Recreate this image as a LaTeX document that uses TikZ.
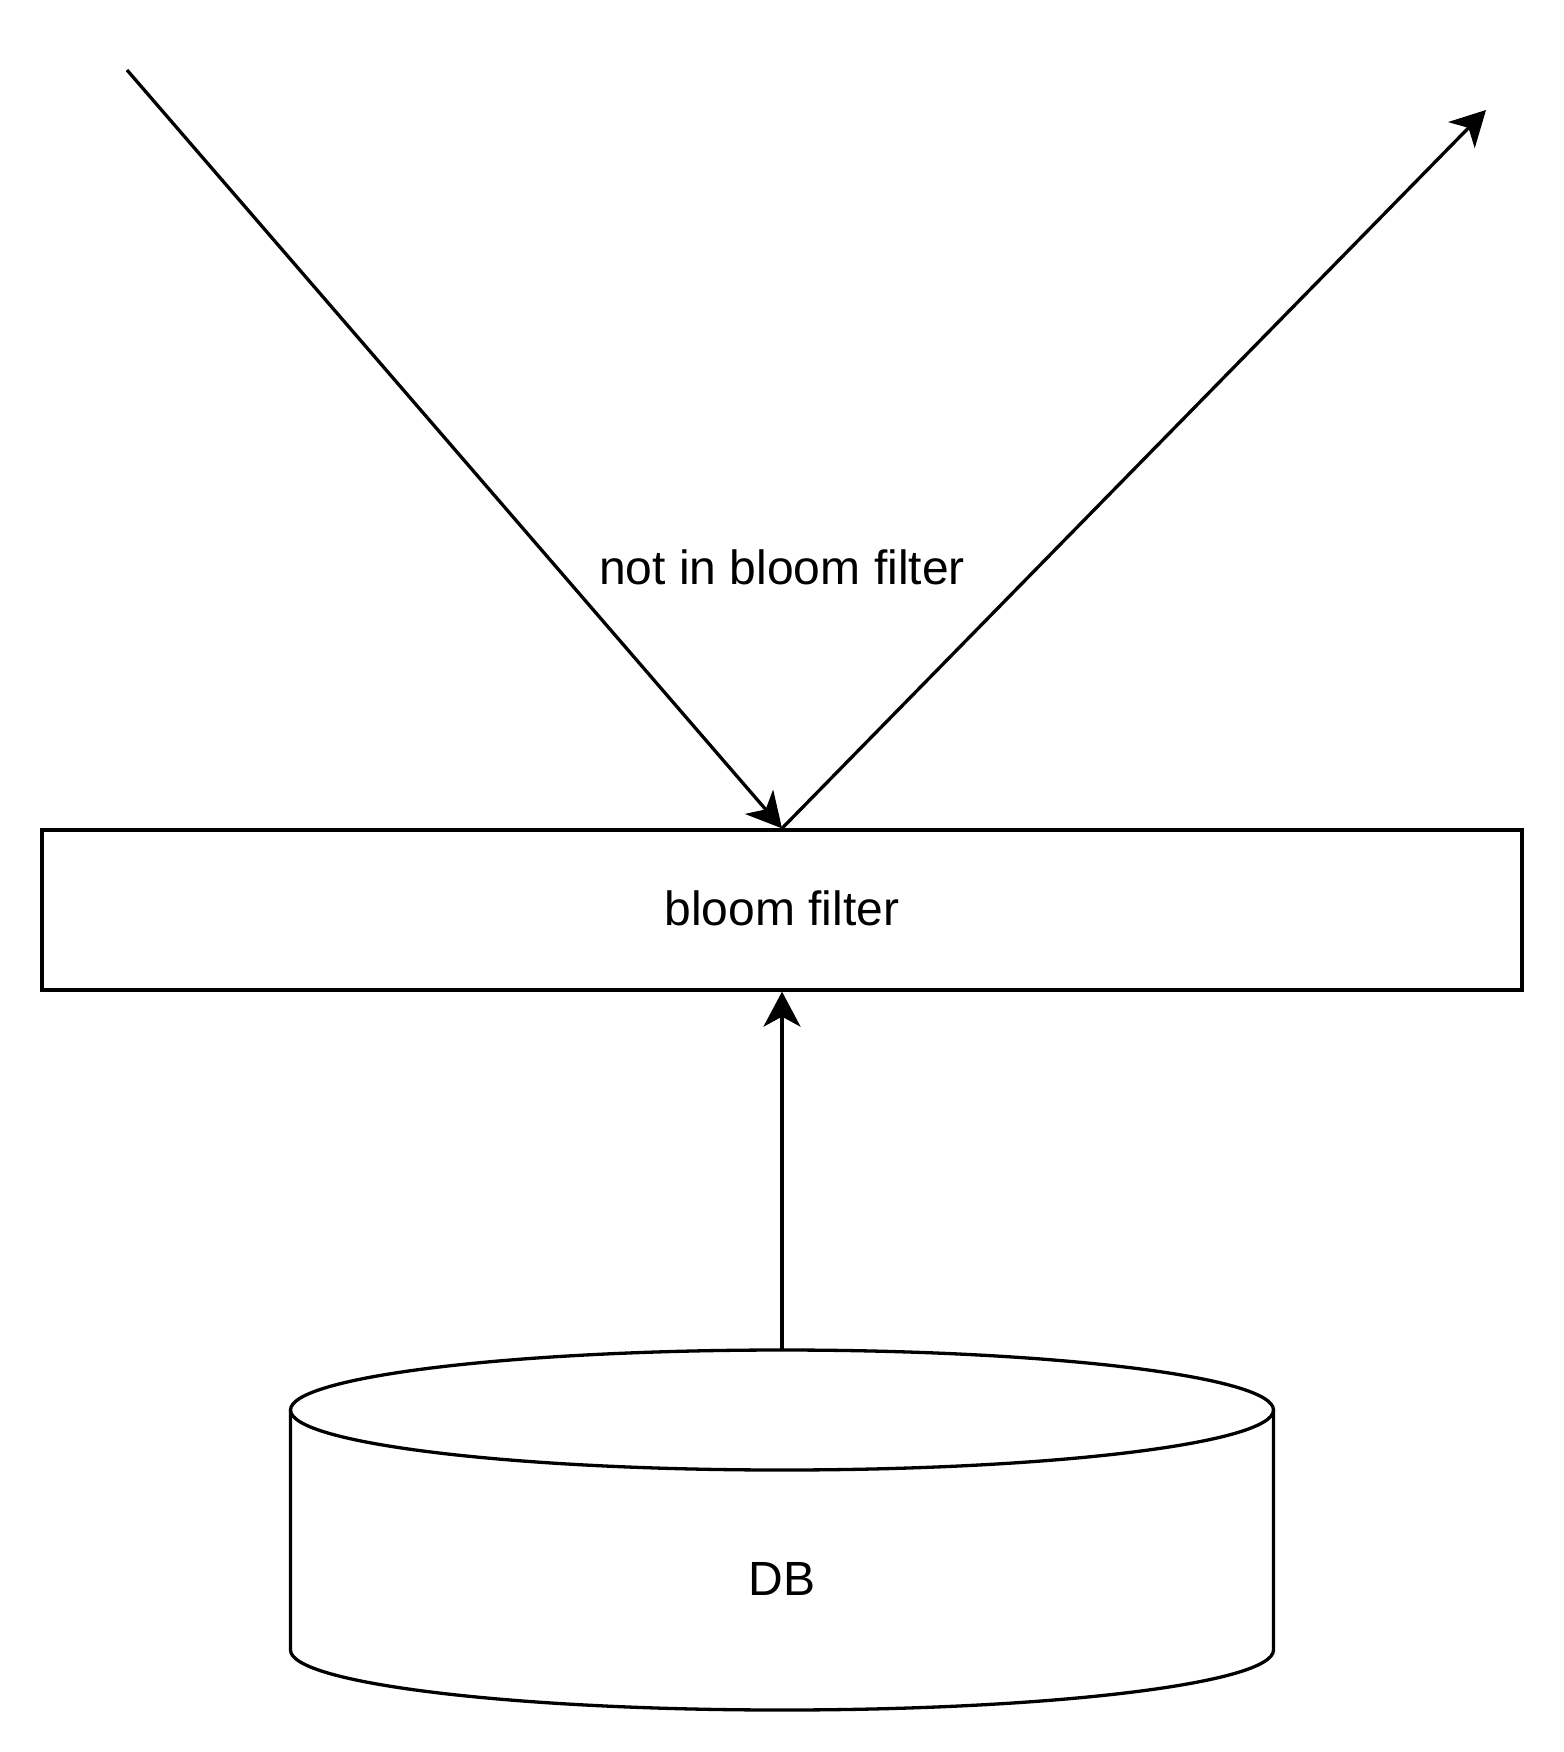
\documentclass[tikz,border=0pt]{standalone}
\usepackage{fontspec}
\setmainfont{Liberation Sans}
\usetikzlibrary{arrows.meta}
\begin{document}
\begin{tikzpicture}[x=0.5pt,y=-0.5pt, line width=1.65pt,
  arr/.style={-{Stealth[length=17.5pt,width=18.5pt,inset=5pt]}},
  lbl/.style={font=\fontsize{24}{28}\selectfont, inner sep=0pt}]
\useasboundingbox (0,0) rectangle (1564,1752);
% bloom filter box
\node[draw, minimum width=740pt, minimum height=80pt, inner sep=0pt, lbl] (bf) at (782,910) {\raisebox{2pt}{bloom filter}};
% free ends
\coordinate (src) at (127,70);
\coordinate (dst) at (1486,110);
\draw[arr] (src) -- (bf.north);
\draw[arr] (bf.north) -- (dst);
\node[lbl] (lab) at (782,567) {not in bloom filter};
% DB cylinder
\draw (782,1410) ellipse [x radius=245.75pt, y radius=30pt];
\draw (290.5,1410) -- (290.5,1650) arc[start angle=180, end angle=360, x radius=245.75pt, y radius=30pt] -- (1273.5,1410);
\node[lbl] (db) at (782,1579) {DB};
\coordinate (dbtop) at (782,1350);
\draw[arr] (dbtop) -- (bf.south);
\end{tikzpicture}
\end{document}
